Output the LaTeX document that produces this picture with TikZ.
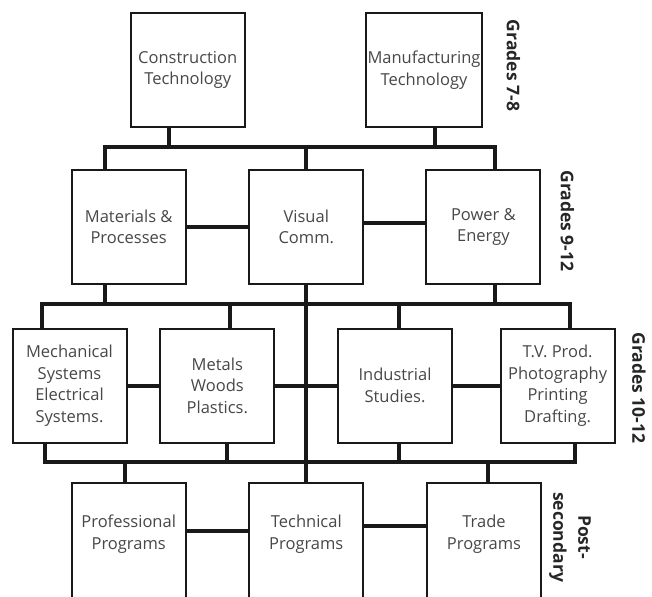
\documentclass[tikz,border=0pt]{standalone}
\usepackage{fontspec}
\setmainfont{Open Sans}
\begin{document}
\begin{tikzpicture}[
        x=1pt, y=-1pt,
        every node/.style={font=\fontsize{16.5}{21.5}\selectfont},
        box/.style={rectangle, draw=black!90, line width=2pt,
            minimum width=114pt, minimum height=114pt,
            inner sep=2pt, align=center, text=black!72},
        progbox/.style={box, anchor=north, minimum height=0pt,
            inner ysep=32pt, text depth=120pt},
        link/.style={line width=4pt, draw=black!90, line join=miter},
        grade/.style={rotate=-90, inner sep=0pt, align=center,
            font=\fontsize{17.5}{25}\selectfont\bfseries, text=black!85}
      ]
      \useasboundingbox (0,0) rectangle (652,596);
      \clip (0,0) rectangle (652,596);
      \node[box] (cons) at (187.7,70) {Construction\\Technology};
      \node[box] (manu) at (424,70) {Manufacturing\\Technology};
      \node[box] (mat) at (128.7,227) {Materials \&\\Processes};
      \node[box] (vis) at (306.3,227) {Visual\\Comm.};
      \node[box] (pow) at (483.4,227) {Power \&\\Energy};
      \node[box] (mech) at (69.5,385.5) {Mechanical\\Systems\\Electrical\\Systems.};
      \node[box] (metal) at (217.3,385.5) {Metals\\Woods\\Plastics.};
      \node[box] (ind) at (395,385.5) {Industrial\\Studies.};
      \node[box] (tv) at (557.6,385.5) {T.V. Prod.\\Photography\\Printing\\Drafting.};
      \node[progbox] (prof) at (128.7,482) {Professional\\Programs};
      \node[progbox] (tech) at (306.3,482) {Technical\\Programs};
      \node[progbox] (trade) at (484,482) {Trade\\Programs};
      \node[grade] (g78) at (513.5,65.5) {Grades 7-8};
      \node[grade] (g912) at (567.5,221) {Grades 9-12};
      \node[grade] (g1012) at (639,388) {Grades 10-12};
      \node[grade] (gpost) at (570,537) {Post-\\secondary};
      \coordinate (topL) at (105,147);
      \coordinate (topR) at (495,147);
      \coordinate (midL) at (41.7,304);
      \coordinate (midR) at (570,304);
      \coordinate (lowL) at (45,462);
      \coordinate (lowR) at (575,462);
      \draw[link] (topL |- mat.north) -- (topL) -- (topR) -- (topR |- pow.north);
      \draw[link] ([xshift=-19pt]cons.south) -- ([xshift=-19pt]cons.south |- topL);
      \draw[link] ([xshift=11pt]manu.south) -- ([xshift=11pt]manu.south |- topL);
      \draw[link] (vis.north |- topL) -- (vis.north);
      \draw[link] (mat.east) -- (vis.west);
      \draw[link] ([yshift=4pt]vis.east) -- ([yshift=4pt]pow.west);
      \draw[link] (topL |- mat.south) -- (topL |- midL);
      \draw[link] (topR |- pow.south) -- (topR |- midR);
      \draw[link] (midL |- mech.north) -- (midL) -- (midR) -- (midR |- tv.north);
      \draw[link] ([xshift=13pt]metal.north |- midL) -- ([xshift=13pt]metal.north);
      \draw[link] ([xshift=4pt]ind.north |- midL) -- ([xshift=4pt]ind.north);
      \draw[link] (vis.south) -- (tech.north);
      \draw[link] (mech.east) -- (metal.west);
      \draw[link] (metal.east) -- (ind.west);
      \draw[link] (ind.east) -- (tv.west);
      \draw[link] (lowL |- mech.south) -- (lowL) -- (lowR) -- (lowR |- tv.south);
      \draw[link] ([xshift=10pt]metal.south) -- ([xshift=10pt]metal.south |- lowL);
      \draw[link] ([xshift=4pt]ind.south) -- ([xshift=4pt]ind.south |- lowL);
      \draw[link] ([xshift=-4pt]prof.north |- lowL) -- ([xshift=-4pt]prof.north);
      \draw[link] ([xshift=4pt]trade.north |- lowL) -- ([xshift=4pt]trade.north);
      \draw[link] ([yshift=-49pt]prof.north east) -- ([yshift=-49pt]tech.north west);
      \draw[link] ([yshift=-44pt]tech.north east) -- ([yshift=-44pt]trade.north west);
\end{tikzpicture}
\end{document}
